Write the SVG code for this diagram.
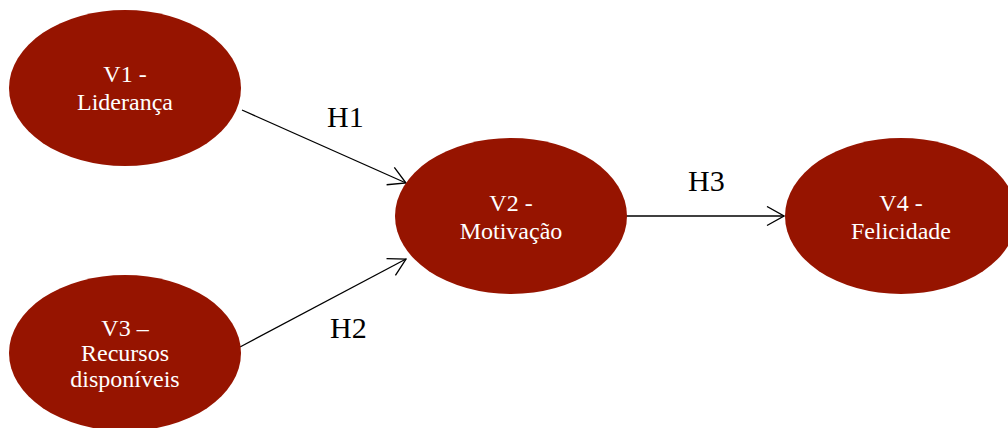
<svg xmlns="http://www.w3.org/2000/svg" width="1008" height="428" viewBox="0 0 1008 428">
  <style>
    .node { fill: #961400; }
    .lbl { font-family: "Liberation Serif", "Times New Roman", serif; font-size: 24px; fill: #ffffff; text-anchor: middle; }
    .edge { stroke: #000; stroke-width: 1.3; fill: none; }
    .hyp { font-family: "Liberation Serif", "Times New Roman", serif; font-size: 30px; fill: #000; }
  </style>
  <defs>
    <marker id="open-arrow" markerUnits="userSpaceOnUse" markerWidth="19" markerHeight="21" viewBox="-1 -1 19 21" refX="17" refY="9.5" orient="auto">
      <path d="M0,0 L17,9.5 L0,19" fill="none" stroke="#000" stroke-width="1.3"/>
    </marker>
  </defs>
  <rect width="1008" height="428" fill="#ffffff"/>

  <g id="connectors">
    <line class="edge" x1="242" y1="110" x2="406" y2="183" marker-end="url(#open-arrow)"/>
    <line class="edge" x1="240" y1="347" x2="406" y2="259" marker-end="url(#open-arrow)"/>
    <line class="edge" x1="626" y1="216" x2="784" y2="216" marker-end="url(#open-arrow)"/>
    <text class="hyp" x="327" y="127">H1</text>
    <text class="hyp" x="330" y="338">H2</text>
    <text class="hyp" x="688" y="191">H3</text>
  </g>

  <g id="v1">
    <ellipse class="node" cx="125" cy="88" rx="116" ry="78"/>
    <text class="lbl" x="125" y="82">V1 -</text>
    <text class="lbl" x="125" y="110">Liderança</text>
  </g>

  <g id="v2">
    <ellipse class="node" cx="511" cy="216" rx="116" ry="78"/>
    <text class="lbl" x="511" y="211">V2 -</text>
    <text class="lbl" x="511" y="239">Motivação</text>
  </g>

  <g id="v3">
    <ellipse class="node" cx="125" cy="353" rx="116" ry="78"/>
    <text class="lbl" x="125" y="336">V3 –</text>
    <text class="lbl" x="125" y="361">Recursos</text>
    <text class="lbl" x="125" y="387">disponíveis</text>
  </g>

  <g id="v4">
    <ellipse class="node" cx="901" cy="216" rx="116" ry="78"/>
    <text class="lbl" x="901" y="211">V4 -</text>
    <text class="lbl" x="901" y="239">Felicidade</text>
  </g>
</svg>
